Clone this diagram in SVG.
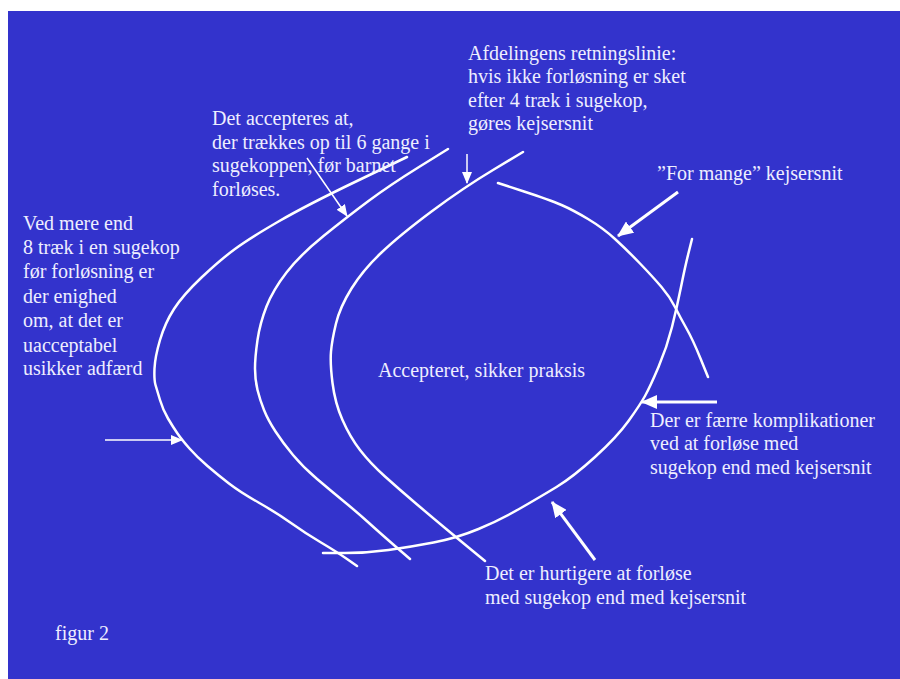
<svg xmlns="http://www.w3.org/2000/svg" width="900" height="679" viewBox="0 0 900 679">
<defs>
<style>
.t{font-family:"Liberation Serif","Times New Roman",serif;font-size:20px;fill:#EEEEFF}
.c{fill:none;stroke:#FFFFFF;stroke-width:2.5;stroke-linejoin:round;stroke-linecap:round}
.a1{fill:none;stroke:#FFFFFF;stroke-width:1.5}
.a3{fill:none;stroke:#FFFFFF;stroke-width:3}
</style>
<marker id="hs" markerUnits="userSpaceOnUse" markerWidth="12" markerHeight="10" refX="11" refY="5" orient="auto">
<path d="M0,0 L12,5 L0,10 z" fill="#FFFFFF"/>
</marker>
<marker id="hl" markerUnits="userSpaceOnUse" markerWidth="16" markerHeight="14" refX="15" refY="7" orient="auto">
<path d="M0,0 L16,7 L0,14 z" fill="#FFFFFF"/>
</marker>
</defs>
<rect x="0" y="0" width="900" height="679" fill="#FFFFFF"/>
<rect x="8" y="11" width="892" height="668" fill="#3333CC"/>
<g id="curves">
<path class="c" d="M407,157 L357,181 Q307,205 278.5,221.5 Q250,238 235,249 Q220,260 201.5,277.5 Q183,295 174,309 Q165,323 160,340 Q155,357 154.5,368.5 Q154,380 155.5,385 Q157,390 160,400 Q163,410 168,418.5 Q173,427 177.5,433.5 Q182,440 189.5,448.5 Q197,457 207.5,466 Q218,475 229,483.5 Q240,492 258.5,502.5 Q277,513 291,523 Q305,533 321,542.5 Q337,552 347,559 L357,566"/>
<path class="c" d="M448,149 L419,167 Q390,185 368.5,201 Q347,217 323.5,236 Q300,255 286.5,272.5 Q273,290 266.5,306.5 Q260,323 257.5,340 Q255,357 255,368.5 Q255,380 257.5,390 Q260,400 264,410 Q268,420 275.5,431.5 Q283,443 293,455 Q303,467 316.5,478.5 Q330,490 344,501.5 Q358,513 369,523 Q380,533 395,546 L410,559"/>
<path class="c" d="M523,152 L493,170 Q463,188 431.5,211.5 Q400,235 381.5,252.5 Q363,270 351.5,288.5 Q340,307 336,323.5 Q332,340 331,351.5 Q330,363 332.5,383 Q335,403 342.5,420 Q350,437 360,450 Q370,463 385,476.5 Q400,490 416.5,504 Q433,518 445,528 Q457,538 471,549.5 L485,561"/>
<path class="c" d="M323,553 L345,553 Q367,553 388.5,550 Q410,547 433.5,542.5 Q457,538 478.5,529 Q500,520 520,508.5 Q540,497 556.5,487 Q573,477 595,457 Q617,437 628.5,421 Q640,405 645,396 Q650,387 658.5,367 Q667,347 672,327 Q677,307 681,287 Q685,267 688.5,253 L692,239"/>
<path class="c" d="M498,183 L524,191.5 Q550,200 561.5,205 Q573,210 588,219 Q603,228 615,239 Q627,250 640,263.5 Q653,277 661.5,287 Q670,297 675,307 Q680,317 686.5,328.5 Q693,340 700.5,358.5 L708,377"/>
</g>
<g id="connectors">
<line class="a1" x1="105" y1="440" x2="182" y2="440" marker-end="url(#hs)"/>
<line class="a1" x1="307" y1="158" x2="347" y2="216" marker-end="url(#hs)"/>
<line class="a1" x1="467" y1="154" x2="467" y2="183" marker-end="url(#hs)"/>
<line class="a3" x1="678" y1="192" x2="618" y2="236" marker-end="url(#hl)"/>
<line class="a3" x1="717" y1="402" x2="642" y2="402" marker-end="url(#hl)"/>
<line class="a3" x1="595" y1="560" x2="552" y2="502" marker-end="url(#hl)"/>
</g>
<g id="label-accepteres">
<text class="t" x="212" y="125">Det accepteres at,</text>
<text class="t" x="212" y="149">der trækkes op til 6 gange i</text>
<text class="t" x="212" y="172">sugekoppen, før barnet</text>
<text class="t" x="212" y="196">forløses.</text>
</g>
<g id="label-afdelingens">
<text class="t" x="468" y="60">Afdelingens retningslinie:</text>
<text class="t" x="468" y="83">hvis ikke forløsning er sket</text>
<text class="t" x="468" y="107">efter 4 træk i sugekop,</text>
<text class="t" x="468" y="130">gøres kejsersnit</text>
</g>
<g id="label-formange">
<text class="t" x="657" y="180">”For mange” kejsersnit</text>
</g>
<g id="label-ved">
<text class="t" x="23" y="230">Ved mere end</text>
<text class="t" x="23" y="254">8 træk i en sugekop</text>
<text class="t" x="23" y="278">før forløsning er</text>
<text class="t" x="23" y="303">der enighed</text>
<text class="t" x="23" y="327">om, at det er</text>
<text class="t" x="23" y="352">uacceptabel</text>
<text class="t" x="23" y="375">usikker adfærd</text>
</g>
<g id="label-center">
<text class="t" x="378" y="377">Accepteret, sikker praksis</text>
</g>
<g id="label-faerre">
<text class="t" x="650" y="427">Der er færre komplikationer</text>
<text class="t" x="650" y="450">ved at forløse med</text>
<text class="t" x="650" y="474">sugekop end med kejsersnit</text>
</g>
<g id="label-hurtigere">
<text class="t" x="485" y="580">Det er hurtigere at forløse</text>
<text class="t" x="485" y="604">med sugekop end med kejsersnit</text>
</g>
<g id="label-figur">
<text class="t" x="55" y="640">figur 2</text>
</g>
</svg>
